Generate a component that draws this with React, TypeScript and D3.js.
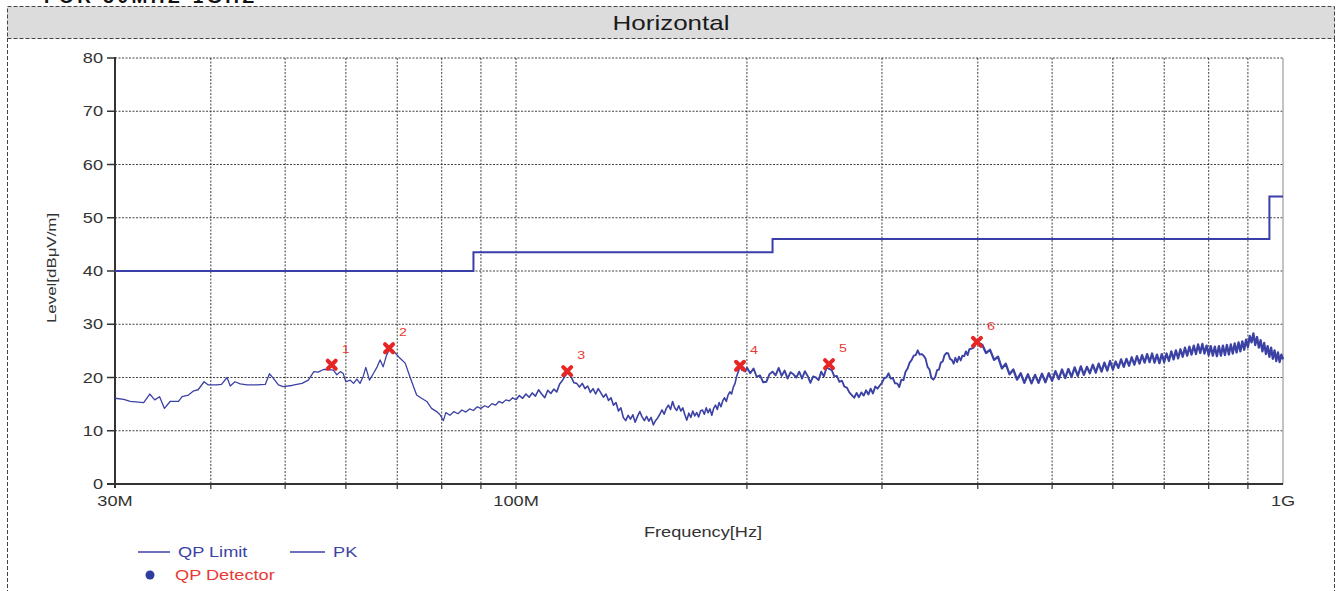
import React from 'react'
import * as d3 from 'd3'

// spectrum 30 MHz - 1 GHz, horizontal polarisation
const yTicks = [0, 10, 20, 30, 40, 50, 60, 70, 80]
const xLabels: [number, string][] = [[30, '30M'], [100, '100M'], [1000, '1G']]
const xGrid = [40, 50, 60, 70, 80, 90, 100, 200, 300, 400, 500, 600, 700, 800, 900]

const limitFreq = [30, 88, 88, 216, 216, 960, 960, 1000]
const limitLevel = [40, 40, 43.5, 43.5, 46, 46, 54, 54]

// PK trace, [MHz, dBuV/m]
const pkLow = [
  [30.0, 16.1], [30.8, 15.9], [31.4, 15.5], [32.7, 15.3], [33.3, 16.9], [33.8, 15.8], [34.3, 16.4], [34.8, 14.2],
  [35.4, 15.5], [36.3, 15.5], [36.7, 16.4], [37.4, 16.7], [38.0, 17.5], [38.5, 17.7], [39.2, 19.2], [39.7, 18.6],
  [40.7, 18.6], [41.3, 18.7], [42.0, 20.0], [42.4, 18.4], [43.0, 19.2], [43.7, 18.8], [44.6, 18.6], [45.9, 18.6],
  [47.1, 18.7], [47.7, 20.7], [48.3, 19.8], [49.0, 18.6], [49.7, 18.3], [51.0, 18.5], [52.6, 18.9], [53.6, 19.5],
  [54.5, 21.1], [55.2, 21.0], [56.1, 21.5], [56.7, 21.5], [57.8, 21.4], [58.4, 20.5], [59.0, 21.1], [59.5, 20.8],
  [60.0, 19.2], [60.8, 19.5], [61.4, 18.9], [62.0, 19.7], [62.6, 18.9], [63.2, 20.2], [63.7, 21.9], [64.4, 19.5],
  [65.2, 20.8], [65.9, 22.0], [66.5, 23.3], [67.1, 22.0], [67.8, 24.2], [68.5, 25.5], [69.5, 24.7], [70.6, 23.6],
  [71.7, 22.7], [72.7, 20.2], [73.5, 18.3], [74.2, 16.7], [75.3, 16.1], [76.5, 15.5], [77.6, 14.2], [78.8, 13.6],
  [79.6, 13.0], [80.4, 11.9], [81, 13.4], [82, 12.9], [83, 13.6], [84, 13.2], [85, 13.9], [86, 13.5], [87, 14.1],
  [88, 13.8], [89, 14.5], [90, 14.2], [91, 14.7], [92, 14.4], [93, 15.1], [94, 14.8], [95, 15.5], [96, 15.2],
  [97, 15.8], [98, 15.6], [99, 16.2],
]

const pkMid = [
  [100, 15.8], [101, 16.6], [102, 16.1], [103, 16.9], [104, 16.3], [105, 17.1], [106, 16.5], [107, 17.7], [108, 16.9],
  [109, 16.2], [110, 17.6], [111, 17.0], [112, 17.8], [113, 17.3], [114, 18.8], [115, 19.5], [116, 20.4], [117, 21.0],
  [118, 20.1], [119, 19.0], [120, 18.9], [121, 18.2], [122, 18.9], [123, 17.9], [124, 18.4], [125, 17.2], [126, 17.9],
  [127, 16.9], [128, 17.9], [129, 17.1], [130, 16.3], [131, 16.9], [132, 15.7], [133, 16.2], [134, 14.8], [135, 15.3],
  [136, 13.7], [137, 14.3], [138, 12.5], [139, 11.9], [140, 12.9], [141, 12.2], [142, 13.0], [143, 11.6], [144, 12.7],
  [145, 13.6], [146, 12.6], [147, 11.9], [148, 12.7], [149, 11.8], [150, 12.5], [151, 11.1], [152, 11.9], [153, 12.4],
  [154, 13.1], [155, 13.9], [156, 13.1], [157, 14.2], [158, 14.8], [159, 14.0], [160, 15.5], [161, 14.3], [162, 13.8],
  [163, 14.7], [164, 13.7], [165, 14.3], [166, 13.0], [167, 12.0], [168, 13.3], [169, 12.5], [170, 13.7], [171, 12.8],
  [172, 13.4], [173, 12.6], [174, 13.7], [175, 13.9], [176, 13.1], [177, 14.3], [178, 13.4], [179, 14.1], [180, 12.9],
  [181, 14.2], [182, 14.8], [183, 14.0], [184, 15.3], [185, 14.5], [186, 15.6], [187, 16.2], [188, 15.5], [189, 16.7],
  [190, 17.3], [191, 16.9], [192, 18.2], [193, 18.9], [194, 20.3], [195, 21.2], [196, 22.1], [197, 21.4], [198, 21.9],
  [199, 21.1],
]

const pkHigh = [
  [200, 21.9], [202, 20.8], [204, 21.7], [206, 20.1], [208, 20.4], [210, 19.1], [212, 19.2], [214, 20.6], [216, 21.1],
  [218, 20.4], [220, 21.8], [222, 20.3], [224, 21.3], [226, 19.8], [228, 21.0], [230, 20.6], [232, 20.0], [234, 21.1],
  [236, 19.8], [238, 21.2], [240, 20.3], [242, 19.0], [244, 20.2], [246, 20.0], [248, 19.5], [250, 21.1], [252, 20.2],
  [254, 21.9], [256, 21.6], [258, 21.4], [260, 20.2], [262, 20.3], [264, 19.2], [266, 19.4], [268, 18.3], [270, 18.1],
  [272, 17.2], [274, 16.7], [276, 16.2], [278, 17.1], [280, 16.3], [282, 17.2], [284, 16.6], [286, 17.6], [288, 16.8],
  [290, 17.9], [292, 17.0], [294, 18.3], [296, 17.9], [298, 18.5], [300, 19.0], [302, 19.9], [304, 20.0], [306, 20.8],
  [308, 19.8], [310, 19.9], [312, 18.9], [314, 18.9], [316, 18.2], [318, 19.6], [320, 19.5], [322, 21.1], [324, 21.7],
  [326, 22.8], [328, 23.3], [330, 24.1], [332, 24.2], [334, 25.1], [336, 24.3], [338, 24.4], [340, 24.1], [342, 23.5],
  [344, 22.0], [346, 21.5], [348, 19.9], [350, 19.6], [352, 20.1], [354, 21.4], [356, 21.5], [358, 22.8], [360, 23.0],
  [362, 24.2], [364, 24.6], [366, 24.5], [368, 23.5], [370, 23.3], [372, 22.6], [374, 23.7], [376, 22.9], [378, 23.9],
  [380, 23.2], [382, 24.1], [384, 24.0], [386, 24.9], [388, 24.2], [390, 25.3], [392, 25.4], [394, 25.5], [396, 25.8],
  [398, 26.5], [400, 26.4],
]

const pkTop = [
  [405, 26.3], [410, 24.6], [415, 25.2], [420, 23.3], [425, 23.9], [430, 21.7], [435, 22.6], [440, 20.6], [445, 21.5],
  [450, 19.6], [455, 20.8], [460, 19.0], [465, 20.6], [470, 18.9], [475, 20.5], [480, 19.0], [485, 20.7], [490, 19.1],
  [495, 20.8], [500, 19.4], [505, 21.2], [510, 19.7], [515, 21.5], [520, 19.9], [525, 21.6], [530, 20.1], [535, 21.9],
  [540, 20.3], [545, 22.1], [550, 20.5], [555, 22.0], [560, 20.8], [565, 22.4], [570, 20.9], [575, 22.6], [580, 21.1],
  [585, 22.8], [590, 21.3], [595, 23.1], [600, 21.5], [605, 23.0], [610, 21.8], [615, 23.4], [620, 22.0], [625, 23.5],
  [630, 22.2], [635, 23.8], [640, 22.4], [645, 24.0], [650, 22.6], [655, 24.2], [660, 22.8], [665, 24.4], [670, 22.9],
  [675, 24.5], [680, 22.8], [685, 24.3], [690, 22.7], [695, 24.4], [700, 22.9], [705, 24.5], [710, 23.1], [715, 24.9],
  [720, 23.4], [725, 25.1], [730, 23.6], [735, 25.3], [740, 23.9], [745, 25.6], [750, 24.1], [755, 25.8], [760, 24.3],
  [765, 26.0], [770, 24.4], [775, 26.2], [780, 24.6], [785, 26.3], [790, 24.5], [795, 26.0], [800, 24.2], [805, 25.9],
  [810, 24.1], [815, 25.8], [820, 24.0], [825, 25.9], [830, 24.1], [835, 26.0], [840, 24.2], [845, 26.1], [850, 24.3],
  [855, 26.2], [860, 24.5], [865, 26.4], [870, 24.7], [875, 26.6], [880, 24.9], [885, 26.8], [890, 25.2], [895, 27.1],
  [900, 25.7], [905, 27.8], [910, 26.6], [915, 28.3], [920, 26.1], [925, 27.6], [930, 25.6], [935, 27.0], [940, 24.9],
  [945, 26.5], [950, 24.4], [955, 25.9], [960, 23.9], [965, 25.6], [970, 23.5], [975, 25.1], [980, 23.1], [985, 24.7],
  [990, 22.9], [995, 24.3], [1000, 23.4],
]

// QP detector markers
const markerFreq = [57.5, 68.3, 116.6, 195.9, 255.9, 399]
const markerLevel = [22.4, 25.5, 21.2, 22.2, 22.5, 26.7]

const FONT = "'Liberation Sans', Arial, sans-serif"
const BLUE = '#3c42a4'
const RED = '#e83a35'
const STRETCH = 1.3 // the source lettering is drawn wide

function Label({ x, y, anchor = 'start', size = 14, fill = '#333', rotate = 0, children }: any) {
  const rot = rotate ? ` rotate(${rotate})` : ''
  return (
    <text transform={`translate(${x},${y})${rot} scale(${STRETCH},1)`} textAnchor={anchor} fontSize={size} fill={fill}>
      {children}
    </text>
  )
}

export default function App() {
  const left = 115, right = 1283, top = 58, bottom = 484
  const x = d3.scaleLog().domain([30, 1000]).range([left, right])
  const y = d3.scaleLinear().domain([0, 80]).range([bottom, top])

  const line = d3.line<number[]>().x(d => x(d[0])).y(d => y(d[1]))
  const limit = limitFreq.map((f, i) => [f, limitLevel[i]])
  // the sweep gets denser to the right on the log axis, so the trace reads heavier there
  const segments: [number[][], number][] = [
    [pkLow.concat([pkMid[0]]), 1.3],
    [pkMid.concat([pkHigh[0]]), 1.6],
    [pkHigh.concat([pkTop[0]]), 1.9],
    [pkTop, 2.3],
  ]

  return (
    <svg width={1338} height={591} style={{ position: 'absolute', left: 0, top: 0, background: '#fff' }}
      fontFamily={FONT}>
      {/* cut-off page heading */}
      <text x={44} y={3} fontSize={19} fontWeight="bold" fill="#111" textLength={210}>FOR 30MHZ-1GHZ</text>

      {/* frame and header band */}
      <rect x={7.5} y={6.5} width={1327} height={32} fill="#dcdcdc" stroke="#444" strokeDasharray="4,2" />
      <line x1={7.5} x2={7.5} y1={38} y2={591} stroke="#444" strokeDasharray="4,2" />
      <line x1={1334.5} x2={1334.5} y1={38} y2={591} stroke="#444" strokeDasharray="4,2" />
      <Label x={671} y={30} anchor="middle" size={20} fill="#1a1a1a">Horizontal</Label>

      {/* grid */}
      {yTicks.slice(1).map(v => (
        <line key={'gy' + v} x1={left} x2={right} y1={y(v)} y2={y(v)}
          stroke="#222" strokeWidth={1} strokeDasharray="2,1.5" opacity={0.85} />
      ))}
      {xGrid.map(f => (
        <line key={'gx' + f} x1={x(f)} x2={x(f)} y1={top} y2={bottom}
          stroke="#222" strokeWidth={1} strokeDasharray="2,1.5" opacity={0.85} />
      ))}
      <line x1={right} x2={right} y1={top} y2={bottom} stroke="#9a9a9a" strokeWidth={1.2} />

      {/* axes */}
      <line x1={left} x2={left} y1={top - 1} y2={bottom + 4} stroke="#333" strokeWidth={2} />
      <line x1={left - 8} x2={right} y1={bottom} y2={bottom} stroke="#333" strokeWidth={2} />
      {yTicks.map(v => (
        <g key={'ty' + v}>
          <line x1={left - 8} x2={left} y1={y(v)} y2={y(v)} stroke="#333" strokeWidth={1.5} />
          <Label x={left - 12} y={y(v) + 5} anchor="end">{v}</Label>
        </g>
      ))}
      {xGrid.map(f => (
        <line key={'tx' + f} x1={x(f)} x2={x(f)} y1={bottom} y2={bottom + 5} stroke="#333" strokeWidth={1.2} />
      ))}
      {xLabels.map(([f, t]) => (
        <Label key={t} x={x(f)} y={bottom + 22} anchor="middle">{t}</Label>
      ))}
      <Label x={703} y={537} anchor="middle">Frequency[Hz]</Label>
      <Label x={56} y={268} anchor="middle" size={13} rotate={-90}>Level[dBμV/m]</Label>

      {/* limit and trace */}
      <path d={line(limit) || ''} fill="none" stroke="#3a3ea8" strokeWidth={2} />
      {segments.map(([pts, w], i) => (
        <path key={'pk' + i} d={line(pts) || ''} fill="none" stroke={BLUE} strokeWidth={w} strokeLinejoin="round" />
      ))}

      {/* markers */}
      {markerFreq.map((f, i) => (
        <g key={'m' + i} transform={`translate(${x(f)},${y(markerLevel[i])})`}>
          <path d="M-4,-4L4,4M4,-4L-4,4" stroke="#e82525" strokeWidth={4} strokeLinecap="round" />
          <Label x={10} y={-12} size={11} fill={RED}>{i + 1}</Label>
        </g>
      ))}

      {/* legend */}
      <line x1={138} x2={170} y1={552} y2={552} stroke={BLUE} strokeWidth={1.5} />
      <Label x={178} y={557} fill={BLUE}>QP Limit</Label>
      <line x1={290} x2={325} y1={552} y2={552} stroke={BLUE} strokeWidth={1.5} />
      <Label x={333} y={557} fill={BLUE}>PK</Label>
      <circle cx={150} cy={575} r={4.5} fill="#2e3da0" />
      <Label x={175} y={580} fill={RED}>QP Detector</Label>
    </svg>
  )
}
